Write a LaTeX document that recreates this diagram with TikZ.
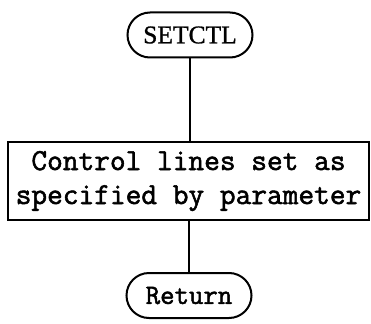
\documentclass[tikz,border=0pt]{standalone}
\usepackage{fontspec}
\newfontfamily\flowmono{Latin Modern Mono}[FakeBold=1.8]
\newfontfamily\flowserif{Liberation Serif}[FakeBold=1]
\usetikzlibrary{shapes.misc}
\tikzset{
  terminal/.style={draw, line width=2pt, rounded rectangle, inner sep=0pt,
    minimum width=125pt, minimum height=45pt},
  process/.style={draw, line width=2pt, rectangle, inner sep=0pt,
    minimum width=361pt, minimum height=78pt, align=center},
  flow/.style={line width=2pt}
}
\begin{document}
\begin{tikzpicture}[x=1pt,y=1pt]
  \useasboundingbox (0,0) rectangle (371,-323);
  \node[terminal, font=\flowserif\fontsize{25.5}{28}\selectfont] (start) at (190,-35) {SETCTL};
  \node[process, font=\flowmono\fontsize{30.5}{34}\selectfont] (setlines) at (188.5,-181)
    {Control lines set as\\specified by parameter};
  \node[terminal, font=\flowmono\fontsize{28}{32}\selectfont] (ret) at (189,-295.5) {Return};
  \draw[flow] (start.south) -- (start.south |- setlines.north);
  \draw[flow] (setlines.south -| ret.north) -- (ret.north);
\end{tikzpicture}
\end{document}
